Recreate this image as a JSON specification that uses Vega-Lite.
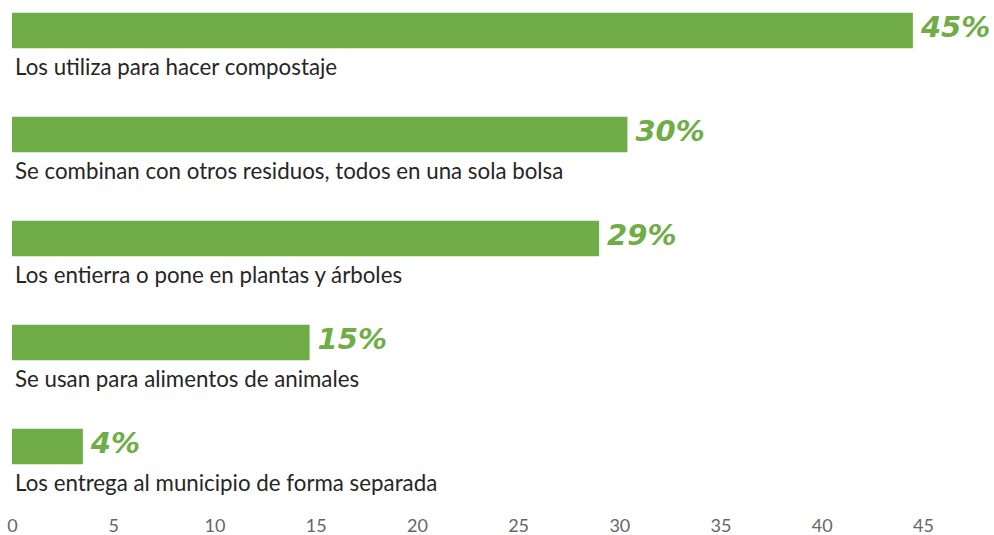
{
  "$schema": "https://vega.github.io/schema/vega-lite/v6.json",
  "width": 911,
  "height": 505,
  "autosize": {"type": "none"},
  "padding": {"left": 12, "top": 0, "right": 71, "bottom": 30},
  "background": "white",
  "config": {"view": {"stroke": null}},
  "data": {
    "values": [
      {"cat": "Los utiliza para hacer compostaje", "value": 44.5, "label": "45%"},
      {"cat": "Se combinan con otros residuos, todos en una sola bolsa", "value": 30.4, "label": "30%"},
      {"cat": "Los entierra o pone en plantas y árboles", "value": 29.0, "label": "29%"},
      {"cat": "Se usan para alimentos de animales", "value": 14.7, "label": "15%"},
      {"cat": "Los entrega al municipio de forma separada", "value": 3.5, "label": "4%"}
    ]
  },
  "encoding": {
    "y": {
      "field": "cat",
      "type": "nominal",
      "sort": null,
      "scale": {"paddingInner": 0.6587, "paddingOuter": 0.257, "align": 0.24},
      "axis": null
    }
  },
  "layer": [
    {
      "mark": {"type": "bar", "color": "#70AD47"},
      "encoding": {
        "x": {
          "field": "value",
          "type": "quantitative",
          "scale": {"domain": [0, 45], "nice": false, "zero": true},
          "axis": {
            "values": [0, 5, 10, 15, 20, 25, 30, 35, 40, 45],
            "grid": false,
            "domain": false,
            "ticks": false,
            "labelPadding": 12,
            "labelFontSize": 18,
            "labelColor": "#666666",
            "labelFont": "Lato",
            "labelFlush": false,
            "title": null
          }
        }
      }
    },
    {
      "mark": {
        "type": "text",
        "align": "left",
        "baseline": "alphabetic",
        "dx": 8,
        "dy": 6.5,
        "font": "DejaVu Sans",
        "fontStyle": "italic",
        "fontWeight": "bold",
        "fontSize": 29,
        "color": "#70AD47"
      },
      "encoding": {
        "x": {"field": "value", "type": "quantitative"},
        "text": {"field": "label"}
      }
    },
    {
      "mark": {
        "type": "text",
        "align": "left",
        "baseline": "alphabetic",
        "dx": 3,
        "dy": 44.5,
        "font": "Lato",
        "fontSize": 22.3,
        "color": "#262626"
      },
      "encoding": {
        "x": {"datum": 0, "type": "quantitative"},
        "text": {"field": "cat"}
      }
    }
  ]
}
